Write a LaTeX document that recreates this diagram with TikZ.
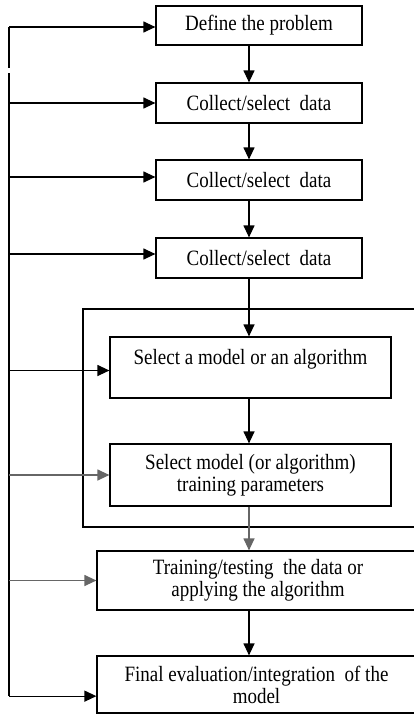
\documentclass[tikz,border=0pt]{standalone}
\usepackage{fontspec}
\setmainfont{Liberation Serif}
\usepackage{graphicx}
\usepackage{tikz}
\usetikzlibrary{arrows.meta,calc}
\tikzstyle{block} = [draw, rectangle, line width=1.2pt, inner sep=0pt, align=center, font=\fontsize{19}{22}\selectfont]
\tikzstyle{flow} = [line width=1.2pt, -{Triangle[length=12pt,width=11pt]}]
\newcommand\tl[1]{\scalebox{1}[1.15]{#1}}

\begin{document}
\begin{tikzpicture}[x=1pt,y=-1pt]
\clip (0,0) rectangle (414,715);

% outer frame round the two model steps
\node[draw, line width=1.2pt, minimum width=335pt, minimum height=218pt] (grp) at (250.5,418) {};

\node[block, minimum width=206pt, minimum height=39pt] (b1) at (259,25.5) {\tl{Define the problem}};
\node[block, minimum width=206pt, minimum height=40pt] (b2) at (259,103) {\tl{Collect/select\ \ data}};
\node[block, minimum width=206pt, minimum height=40pt] (b3) at (259,180) {\tl{Collect/select\ \ data}};
\node[block, minimum width=206pt, minimum height=40pt] (b4) at (259,258) {\tl{Collect/select\ \ data}};
\node[block, minimum width=281pt, minimum height=61pt] (b5) at (250.5,367.5) {\tl{Select a model or an algorithm}\\ ~};
\node[block, minimum width=281pt, minimum height=62pt] (b6) at (250.5,475) {\tl{Select model (or algorithm)}\\ \tl{training parameters}};
\node[block, minimum width=322pt, minimum height=59pt] (b7) at (258,580.5) {\tl{Training/testing\ \ the data or}\\ \tl{applying the algorithm}};
\node[block, minimum width=319pt, minimum height=57pt] (b8) at (256.5,684.5) {\tl{Final evaluation/integration\ \ of the}\\ \tl{model}};

\coordinate (mid) at (249,0);
\coordinate (top) at (9,27);
\coordinate (gapa) at (9,68);
\coordinate (gapb) at (9,73);
\coordinate (bot) at ($(b8.south west)!0.3!(b8.north west)$);

% main chain
\draw[flow] (b1.south -| mid) -- (b2.north -| mid);
\draw[flow] (b2.south -| mid) -- (b3.north -| mid);
\draw[flow] (b3.south -| mid) -- (b4.north -| mid);
\draw[flow] (b4.south -| mid) -- (b5.north -| mid);
\draw[flow] (b5.south -| mid) -- (b6.north -| mid);
\draw[flow, draw=black!60] (b6.south -| mid) -- (b7.north -| mid);
\draw[flow] (b7.south -| mid) -- (b8.north -| mid);

% feedback line on the left
\draw[line width=1.2pt] (top) -- (gapa);
\draw[line width=1.2pt] (gapb) -- (bot -| top);
\draw[flow] (top) -- (b1.west |- top);
\draw[flow] (b2.west -| top) -- (b2.west);
\draw[flow] ($(b3.west -| top)+(0,-3)$) -- ($(b3.west)+(0,-3)$);
\draw[flow] ($(b4.west -| top)+(0,-4)$) -- ($(b4.west)+(0,-4)$);
\draw[flow] ($(b5.west -| top)+(0,3)$) -- ($(b5.west)+(0,3)$);
\draw[flow, draw=black!60] (b6.west -| top) -- (b6.west);
\draw[flow, draw=black!60] (b7.west -| top) -- (b7.west);
\draw[flow] (bot -| top) -- (bot);
\end{tikzpicture}
\end{document}
